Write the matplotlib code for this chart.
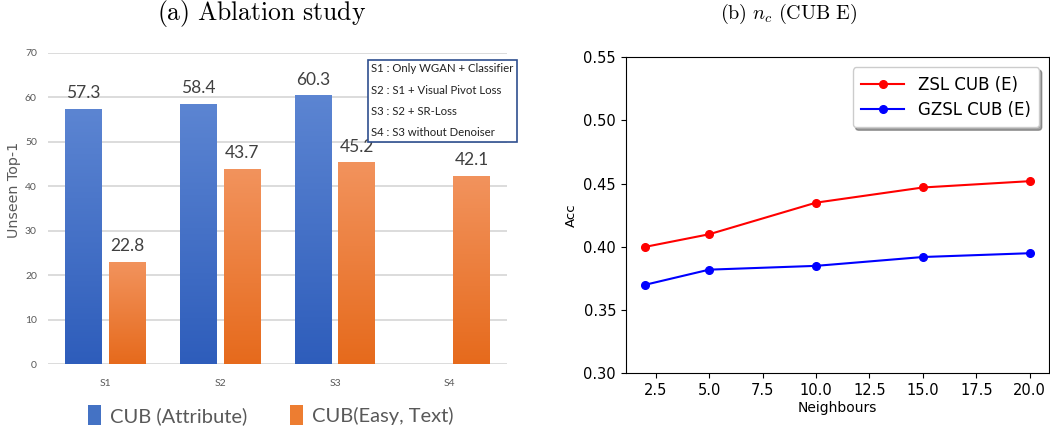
import matplotlib
matplotlib.use("Agg")
import matplotlib.pyplot as plt
import numpy as np
from matplotlib.colors import LinearSegmentedColormap
from matplotlib.patches import Patch

plt.rcParams['mathtext.fontset'] = 'cm'

# ---- data (a) ----
stages = ["S1", "S2", "S3", "S4"]
cub_attr = [57.3, 58.4, 60.3, None]
cub_text = [22.8, 43.7, 45.2, 42.1]
yticks_a = [0, 10, 20, 30, 40, 50, 60, 70]
legend_lines = ["S1 : Only WGAN + Classifier",
                "S2 : S1 + Visual Pivot Loss",
                "S3 : S2 + SR-Loss",
                "S4 : S3 without Denoiser"]

# ---- data (b) ----
neighbours = [2, 5, 10, 15, 20]
zsl = [0.400, 0.410, 0.435, 0.447, 0.452]
gzsl = [0.370, 0.382, 0.385, 0.392, 0.395]

narrow = ['Lato', 'DejaVu Sans']
gray = '#595959'

fig = plt.figure(figsize=(10.5, 4.36), dpi=100)

# ================= panel (a) =================
ax = fig.add_axes([0.0457, 0.165, 0.4373, 0.714])
x = np.arange(len(stages))
w = 0.32
off = 0.19
blue_cm = LinearSegmentedColormap.from_list("b", ["#2E5DBB", "#5C85D2"])
orange_cm = LinearSegmentedColormap.from_list("o", ["#E66A1C", "#F2935D"])

grad = np.linspace(0, 1, 256).reshape(-1, 1)

def gradient_bars(xs, vals, cmap, color):
    for xi, v in zip(xs, vals):
        if v is None:
            continue
        b = ax.bar(xi, v, width=w, color=color, zorder=2)[0]
        x0 = b.get_x()
        ax.imshow(grad, extent=[x0, x0 + w, 0, v], origin='lower', cmap=cmap,
                  aspect='auto', zorder=3, clip_path=b, clip_on=True)
        ax.annotate(f"{v:.1f}", (xi, v), xytext=(0, 6), textcoords='offset points',
                    ha='center', va='bottom', fontsize=12.5, color='#404040',
                    family=narrow, zorder=4)

gradient_bars(x - off, cub_attr, blue_cm, "#4472C4")
gradient_bars(x + off, cub_text, orange_cm, "#ED7D31")

ax.set_xlim(-0.5, 3.5)
ax.set_ylim(0, 70)
ax.set_yticks(yticks_a)
ax.set_yticklabels([str(t) for t in yticks_a], family=narrow, fontsize=7.5, color=gray)
ax.set_xticks(x)
ax.set_xticklabels(stages, family=narrow, fontsize=7.5, color=gray)
ax.tick_params(axis='y', length=0, pad=8)
ax.tick_params(axis='x', length=0, pad=11)
ax.yaxis.grid(True, color='#d9d9d9', linewidth=1.3, zorder=0)
ax.set_axisbelow(True)
for s in ax.spines.values():
    s.set_visible(False)
ax.set_ylabel("Unseen Top-1", fontsize=10.3, color=gray)
ax.yaxis.set_label_coords(-0.059, 0.559)

# legend text box
fig.text(0.3535, 0.683, "\n".join(legend_lines), family=narrow, fontsize=8.2,
         color='#222222', linespacing=2.15, va='bottom', ha='left',
         bbox=dict(boxstyle='square,pad=0.3', facecolor='white', edgecolor='#2F4F8F', linewidth=1.2))

# bottom legend
handles = [Patch(facecolor="#4472C4", label="CUB (Attribute)"),
           Patch(facecolor="#ED7D31", label="CUB(Easy, Text)")]
leg = fig.legend(handles=handles, loc='center', bbox_to_anchor=(0.258, 0.048), ncol=2,
                 frameon=False, prop={'family': narrow, 'size': 14.5}, handlelength=0.65,
                 handleheight=1.15, handletextpad=0.45, columnspacing=2.1)
for t in leg.get_texts():
    t.set_color(gray)

fig.text(0.249, 0.968, r"$\mathrm{(a)\ Ablation\ study}$", ha='center', va='center', fontsize=18.5)

# ================= panel (b) =================
bx = fig.add_axes([0.596, 0.1438, 0.403, 0.7248])
bx.plot(neighbours, zsl, '-o', color='red', label='ZSL CUB (E)', markersize=5.5, linewidth=1.5)
bx.plot(neighbours, gzsl, '-o', color='blue', label='GZSL CUB (E)', markersize=5.5, linewidth=1.5)
bx.set_ylim(0.30, 0.55)
bx.set_yticks([0.30, 0.35, 0.40, 0.45, 0.50, 0.55])
bx.set_yticklabels(["0.30", "0.35", "0.40", "0.45", "0.50", "0.55"])
bx.tick_params(labelsize=10.5)
bx.set_xlabel("Neighbours", fontsize=10, labelpad=2)
bx.set_ylabel("Acc", fontsize=9.5, labelpad=4)
bx.legend(loc='upper right', fontsize=12, shadow=True, fancybox=True, handlelength=2.6,
          borderaxespad=0.6, framealpha=1, borderpad=0.5, labelspacing=0.45)

fig.text(0.751, 0.968, r"$\mathrm{(b)}\ n_c\ \mathrm{(CUB\ E)}$", ha='center', va='center', fontsize=14.5)

fig.savefig("out.png", dpi=100)
